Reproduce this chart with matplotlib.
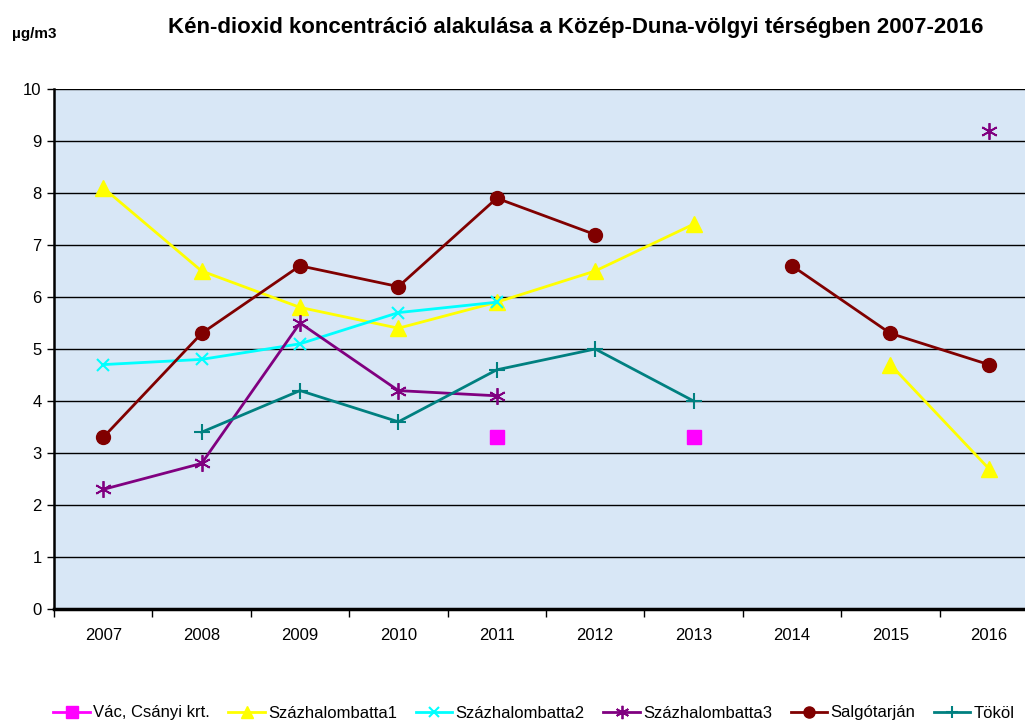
import numpy as np
import matplotlib
matplotlib.use('Agg')
import matplotlib.pyplot as plt

plt.rcParams['font.family'] = ['Liberation Sans', 'DejaVu Sans']

years = ['2007', '2008', '2009', '2010', '2011', '2012', '2013', '2014', '2015', '2016']
nan = np.nan
vac = [nan, nan, nan, nan, 3.3, nan, 3.3, nan, nan, nan]
szb1 = [8.1, 6.5, 5.8, 5.4, 5.9, 6.5, 7.4, nan, 4.7, 2.7]
szb2 = [4.7, 4.8, 5.1, 5.7, 5.9, nan, nan, nan, nan, nan]
szb3 = [2.3, 2.8, 5.5, 4.2, 4.1, nan, nan, nan, nan, 9.2]
salgo = [3.3, 5.3, 6.6, 6.2, 7.9, 7.2, nan, 6.6, 5.3, 4.7]
tokol = [nan, 3.4, 4.2, 3.6, 4.6, 5.0, 4.0, nan, nan, nan]

fig = plt.figure(figsize=(10.25, 7.25), dpi=100)
# plot area runs past the right edge, as in the original
ax = fig.add_axes([54 / 1025, 116 / 725, 984 / 1025, 520 / 725])
ax.set_facecolor('#d8e7f6')

x = np.arange(len(years))
ax.plot(x, vac, color='#ff00ff', marker='s', markersize=10, lw=2, label='Vác, Csányi krt.')
ax.plot(x, szb1, color='#ffff00', marker='^', markersize=11, lw=2, label='Százhalombatta1')
ax.plot(x, szb2, color='#00ffff', marker='x', markersize=9, mew=1.5, lw=2, label='Százhalombatta2')
ax.plot(x, szb3, color='#800080', marker=(6, 2, 0), markersize=12, mew=1.3, lw=2, label='Százhalombatta3')
ax.plot(x, salgo, color='#800000', marker='o', markersize=10, lw=2, label='Salgótarján')
ax.plot(x, tokol, color='#008080', marker='+', markersize=11, mew=1.5, lw=2, label='Tököl')

ax.set_xlim(-0.5, len(years) - 0.5)
ax.set_ylim(0, 10)
ax.set_yticks(range(0, 11))
ax.yaxis.grid(True, color='black', lw=1)
ax.set_axisbelow(True)

ax.set_xticks(x)
ax.set_xticklabels(years, fontsize=12)
ax.set_xticks(np.arange(-0.5, len(years)), minor=True)
ax.tick_params(axis='x', which='major', length=0, pad=14)
ax.tick_params(axis='x', which='minor', length=6, width=1, color='black')
ax.tick_params(axis='y', labelsize=12, length=5, width=1, pad=4)

for s in ['top', 'right']:
    ax.spines[s].set_visible(False)
ax.spines['left'].set_linewidth(1.8)
ax.spines['bottom'].set_linewidth(2.5)

fig.text(576 / 1025, 1 - 27 / 725, 'Kén-dioxid koncentráció alakulása a Közép-Duna-völgyi térségben 2007-2016',
         ha='center', va='center', fontsize=16, fontweight='bold')
fig.text(12 / 1025, 1 - 34 / 725, 'µg/m3', ha='left', va='center', fontsize=11, fontweight='bold')

fig.legend(loc='center', bbox_to_anchor=(534 / 1025, 1 - 713 / 725), ncol=6, frameon=False,
           fontsize=12, handlelength=2.2, handletextpad=0.2, columnspacing=1.1, markerscale=0.8)

fig.savefig('out.png', dpi=100)
